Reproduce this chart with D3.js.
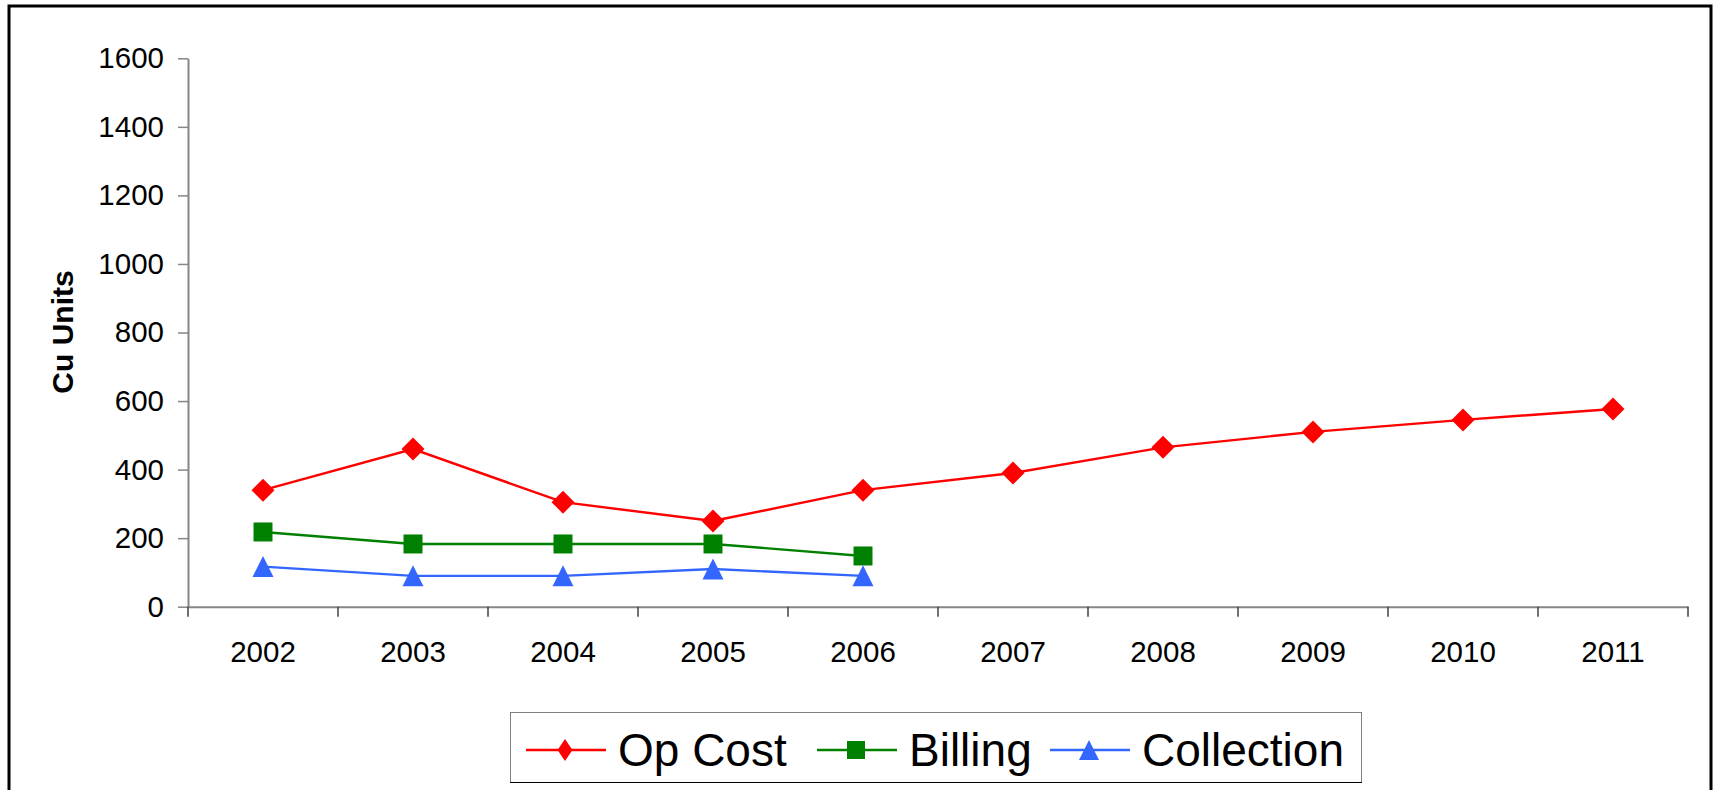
<!DOCTYPE html>
<html>
<head>
<meta charset="utf-8">
<script src="https://cdn.jsdelivr.net/npm/d3@7"></script>
<style>
  html, body { margin: 0; padding: 0; background: #ffffff; }
  svg { display: block; font-family: Arial, "Liberation Sans", sans-serif; }
</style>
</head>
<body>
<svg id="chart" width="1713" height="790"></svg>
<script>
// Yearly figures in Cu units
const years = ["2002", "2003", "2004", "2005", "2006", "2007", "2008", "2009", "2010", "2011"];
const opCost = [340, 460, 305, 250, 340, 390, 465, 510, 545, 577];
const billing = [218, 183, 183, 183, 148];
const collection = [117, 90, 90, 110, 90];
const yTicks = [0, 200, 400, 600, 800, 1000, 1200, 1400, 1600];
const seriesNames = ["Op Cost", "Billing", "Collection"];

const plot = { left: 188, right: 1688, top: 58.3, bottom: 606.7 };

const svg = d3.select("#chart");

// Outer frame of the chart area
svg.append("rect")
  .attr("x", 9).attr("y", 6)
  .attr("width", 1702).attr("height", 820)
  .attr("fill", "#ffffff")
  .attr("stroke", "#000000")
  .attr("stroke-width", 3);

const x = d3.scaleBand().domain(years).range([plot.left, plot.right]);
const y = d3.scaleLinear().domain([0, 1600]).range([plot.bottom, plot.top]);

// Y axis
const yAxis = svg.append("g")
  .attr("transform", `translate(${plot.left},0)`)
  .call(d3.axisLeft(y).tickValues(yTicks).tickFormat(d3.format("d"))
    .tickSize(10).tickSizeOuter(0).tickPadding(14));
yAxis.select(".domain").attr("stroke", "#868686").attr("stroke-width", 2);
yAxis.selectAll(".tick line").attr("stroke", "#868686").attr("stroke-width", 1.5);
yAxis.selectAll(".tick text")
  .attr("font-size", 29.5).attr("fill", "#000000")
  .attr("font-family", "Arial, 'Liberation Sans', sans-serif");

// X axis: labels centred in each band, tick marks on band boundaries
const xAxis = svg.append("g")
  .attr("transform", `translate(0,${plot.bottom})`)
  .call(d3.axisBottom(x).tickSize(0).tickSizeOuter(0).tickPadding(34.5));
xAxis.select(".domain").attr("stroke", "#868686").attr("stroke-width", 2);
xAxis.selectAll(".tick text")
  .attr("font-size", 29.5).attr("fill", "#000000")
  .attr("font-family", "Arial, 'Liberation Sans', sans-serif");

const boundaries = years.map(d => x(d)).concat([x.range()[1]]);
svg.append("g").selectAll("line")
  .data(boundaries)
  .join("line")
  .attr("x1", d => d).attr("x2", d => d)
  .attr("y1", plot.bottom).attr("y2", plot.bottom + 10)
  .attr("stroke", "#404040").attr("stroke-width", 1.5);

// Y axis title
svg.append("text")
  .attr("transform", "translate(73,332) rotate(-90)")
  .attr("text-anchor", "middle")
  .attr("font-size", 30)
  .attr("font-weight", "bold")
  .attr("fill", "#000000")
  .text("Cu Units");

// Marker shapes
const diamondType = {
  draw(ctx, size) {
    const r = Math.sqrt(size) / 2;
    ctx.moveTo(0, -r); ctx.lineTo(r, 0); ctx.lineTo(0, r); ctx.lineTo(-r, 0); ctx.closePath();
  }
};
const narrowDiamondType = {
  draw(ctx, size) {
    const h = Math.sqrt(size) / 2, w = h * 0.68;
    ctx.moveTo(0, -h); ctx.lineTo(w, 0); ctx.lineTo(0, h); ctx.lineTo(-w, 0); ctx.closePath();
  }
};
const triangleType = {
  draw(ctx, size) {
    const r = Math.sqrt(size) / 2;
    ctx.moveTo(0, -r); ctx.lineTo(r, r); ctx.lineTo(-r, r); ctx.closePath();
  }
};
const squareType = {
  draw(ctx, size) {
    const r = Math.sqrt(size) / 2;
    ctx.rect(-r, -r, 2 * r, 2 * r);
  }
};

const series = [
  { name: seriesNames[0], values: opCost, color: "#FF0000", type: diamondType, size: 23 * 23, legendType: narrowDiamondType, legendSize: 22 * 22 },
  { name: seriesNames[1], values: billing, color: "#008000", type: squareType, size: 19 * 19, legendType: squareType, legendSize: 18 * 18 },
  { name: seriesNames[2], values: collection, color: "#3366FF", type: triangleType, size: 21 * 21, legendType: triangleType, legendSize: 20 * 20 }
];

const line = d3.line()
  .x((d, i) => x(years[i]) + x.bandwidth() / 2)
  .y(d => y(d));

series.forEach(s => {
  svg.append("path")
    .datum(s.values)
    .attr("fill", "none")
    .attr("stroke", s.color)
    .attr("stroke-width", 2.4)
    .attr("d", line);
  svg.append("g").selectAll("path")
    .data(s.values)
    .join("path")
    .attr("transform", (d, i) => `translate(${x(years[i]) + x.bandwidth() / 2},${y(d)})`)
    .attr("d", d3.symbol().type(s.type).size(s.size))
    .attr("fill", s.color);
});

// Legend
const legend = svg.append("g");
legend.append("rect")
  .attr("x", 510.5).attr("y", 712.5)
  .attr("width", 851).attr("height", 70)
  .attr("fill", "#ffffff")
  .attr("stroke", "#808080")
  .attr("stroke-width", 1);
legend.append("line")
  .attr("x1", 510).attr("x2", 1362).attr("y1", 782.5).attr("y2", 782.5)
  .attr("stroke", "#000000").attr("stroke-width", 1.2);

const legendX = [526, 817, 1050];
const legendY = 750;
series.forEach((s, i) => {
  const g = legend.append("g").attr("transform", `translate(${legendX[i]},${legendY})`);
  g.append("line")
    .attr("x1", 0).attr("x2", 80).attr("y1", 0).attr("y2", 0)
    .attr("stroke", s.color).attr("stroke-width", 2.4);
  g.append("path")
    .attr("transform", "translate(39,0)")
    .attr("d", d3.symbol().type(s.legendType).size(s.legendSize))
    .attr("fill", s.color);
  g.append("text")
    .attr("x", 92).attr("y", 15.5)
    .attr("font-size", 46)
    .attr("fill", "#000000")
    .text(s.name);
});
</script>
</body>
</html>
